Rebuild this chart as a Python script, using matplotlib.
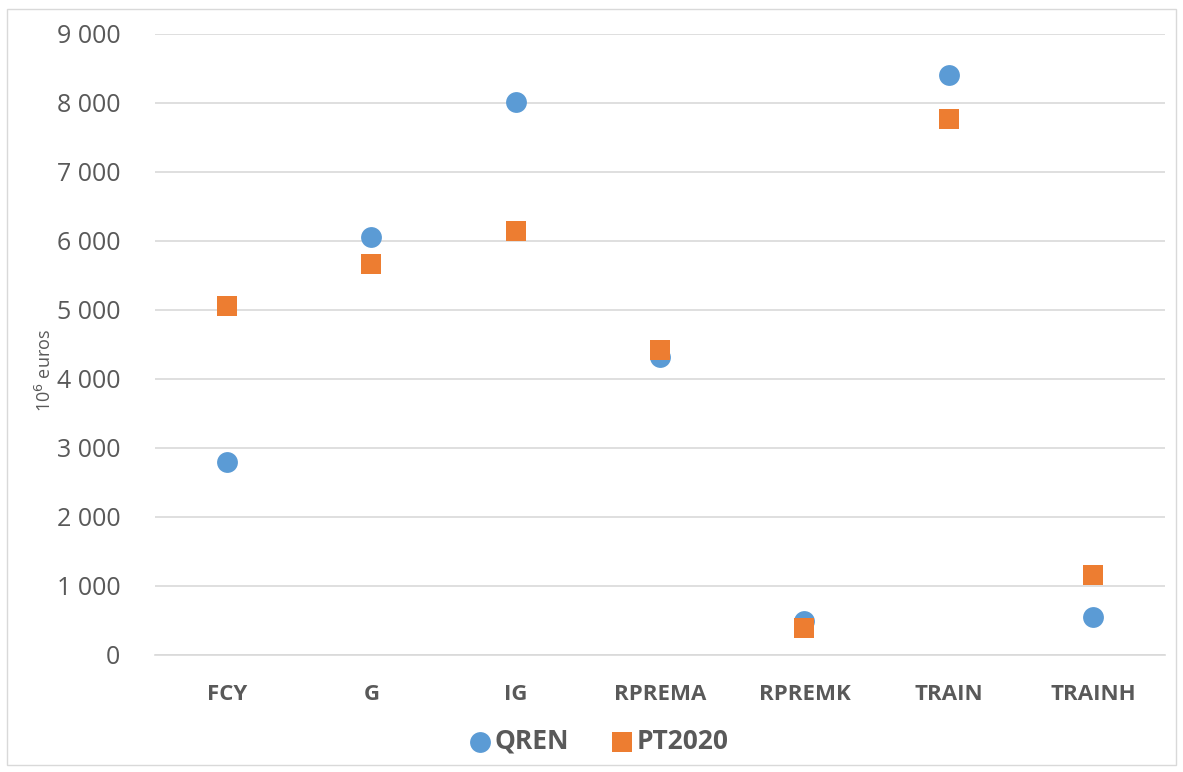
import matplotlib.pyplot as plt
from matplotlib.patches import Rectangle
from matplotlib.ticker import FuncFormatter

categories = ['FCY', 'G', 'IG', 'RPREMA', 'RPREMK', 'TRAIN', 'TRAINH']
qren = [2800, 6060, 8015, 4320, 490, 8405, 550]
pt2020 = [5055, 5665, 6145, 4420, 390, 7770, 1160]

plt.rcParams['font.family'] = ['Open Sans', 'DejaVu Sans']

fig = plt.figure(figsize=(11.83, 7.72), dpi=100)
ax = fig.add_axes([0.131, 0.1516, 0.854, 0.8044])

x = range(len(categories))
ax.scatter(x, qren, s=15 ** 2, marker='o', color='#5B9BD5', label='QREN', zorder=3, linewidths=0)
ax.scatter(x, pt2020, s=14 ** 2, marker='s', color='#ED7D31', label='PT2020', zorder=3, linewidths=0)

ax.set_xlim(-0.5, len(categories) - 0.5)
ax.set_ylim(0, 9000)
ax.set_yticks(range(0, 9001, 1000))
ax.yaxis.set_major_formatter(FuncFormatter(lambda v, p: '{:,.0f}'.format(v).replace(',', ' ')))
ax.set_xticks(list(x))
ax.set_xticklabels(categories, fontweight='bold')
ax.grid(axis='y', color='#D9D9D9', linewidth=1.2)
ax.set_axisbelow(True)
for s in ['top', 'right', 'left']:
    ax.spines[s].set_visible(False)
ax.spines['bottom'].set_color('#D9D9D9')
ax.spines['bottom'].set_linewidth(1.2)
ax.tick_params(axis='y', length=0, labelsize=18, colors='#595959', pad=25)
ax.tick_params(axis='x', length=0, labelsize=16, colors='#595959', pad=21)

fig.text(0.038, 0.52, '10$^{6}$ euros', rotation=90, ha='center', va='center',
         fontsize=13, color='#595959')

leg = fig.legend(loc='center', bbox_to_anchor=(0.505, 0.04), ncol=2, frameon=False,
                 prop={'size': 19, 'weight': 'bold'}, handletextpad=0.05,
                 handlelength=1.0, columnspacing=1.5, markerscale=1.0)
for t in leg.get_texts():
    t.set_color('#595959')

fig.patches.append(Rectangle((0.006, 0.009), 0.988, 0.979, transform=fig.transFigure,
                             fill=False, edgecolor='#D9D9D9', linewidth=1))

plt.savefig('out.png')
plt.close()
